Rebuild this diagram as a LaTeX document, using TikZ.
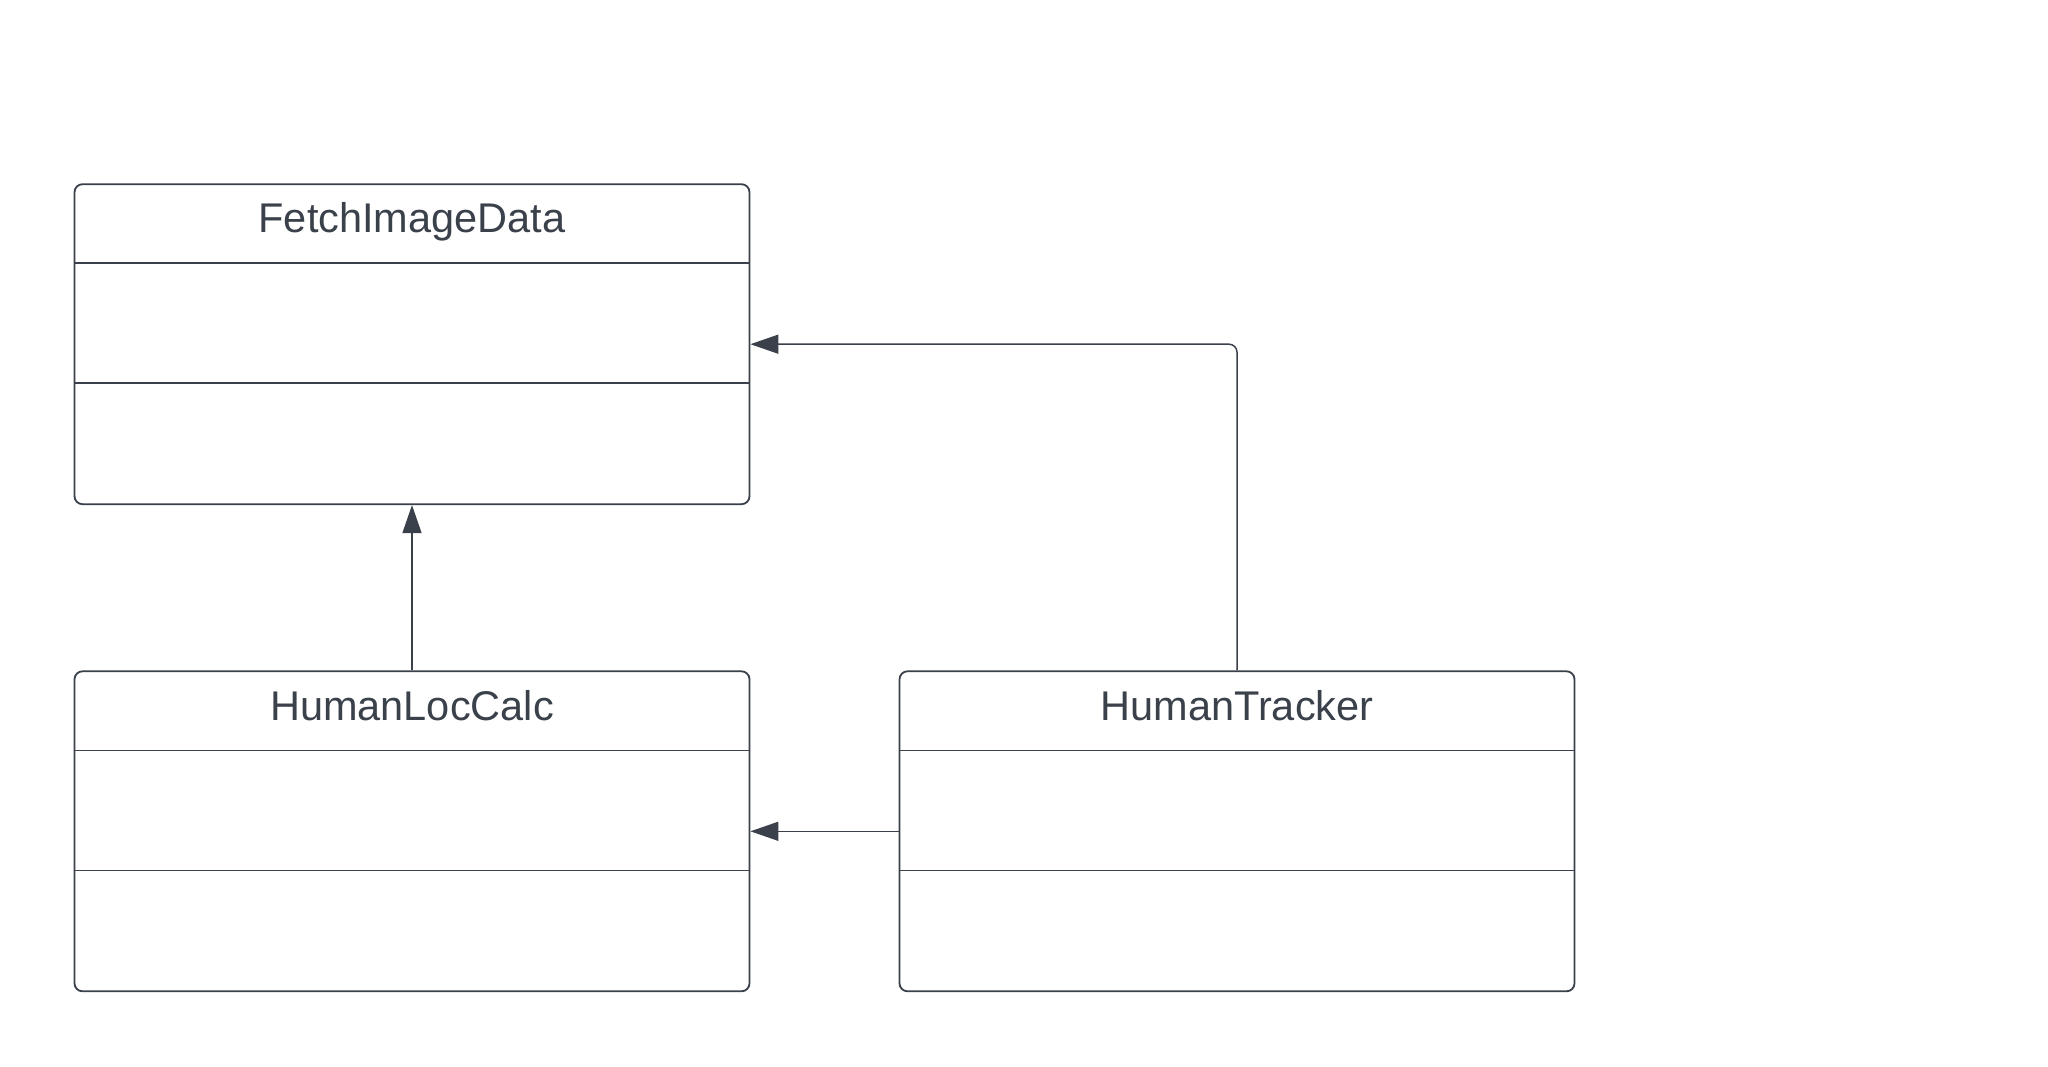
\documentclass[tikz,border=0pt]{standalone}
\usepackage{fontspec}
\setmainfont{Liberation Sans}
\usetikzlibrary{arrows.meta}
\definecolor{ink}{RGB}{58,65,74}
\begin{document}
\begin{tikzpicture}[x=1pt,y=-1pt,
  classbox/.style={draw=ink, line width=1.8pt, rounded corners=8pt, inner sep=0pt,
    minimum width=675pt, minimum height=320pt, fill=white},
  classtitle/.style={anchor=base, text=ink, inner sep=0pt,
    font=\fontsize{41.5}{50}\selectfont},
  sep/.style={draw=ink, line width=1.8pt},
  conn/.style={draw=ink, line width=1.5pt, rounded corners=8pt,
    -{Triangle[length=28pt,width=19pt]}}
]
\useasboundingbox[fill=white] (0,0) rectangle (2048,1067);

% FetchImageData
\node[classbox] (F) at (412,344.2) {};
\node[classtitle] (Ft) at (412,233) {FetchImageData};
\draw[sep] ([yshift=-80pt]F.north west) -- ([yshift=-80pt]F.north east);
\draw[sep] ([yshift=-200pt]F.north west) -- ([yshift=-200pt]F.north east);

% HumanLocCalc
\node[classbox] (L) at (412,831.3) {};
\node[classtitle] (Lt) at (412,720) {HumanLocCalc};
\draw[sep] ([yshift=-80pt]L.north west) -- ([yshift=-80pt]L.north east);
\draw[sep] ([yshift=-200pt]L.north west) -- ([yshift=-200pt]L.north east);

% HumanTracker
\node[classbox] (T) at (1237,831.3) {};
\node[classtitle] (Tt) at (1237,720) {HumanTracker};
\draw[sep] ([yshift=-80pt]T.north west) -- ([yshift=-80pt]T.north east);
\draw[sep] ([yshift=-200pt]T.north west) -- ([yshift=-200pt]T.north east);

% connectors
\draw[conn] (L.north) -- (F.south);
\draw[conn] (T.north) |- (F.east);
\draw[conn] (T.west) -- (L.east);
\end{tikzpicture}
\end{document}
